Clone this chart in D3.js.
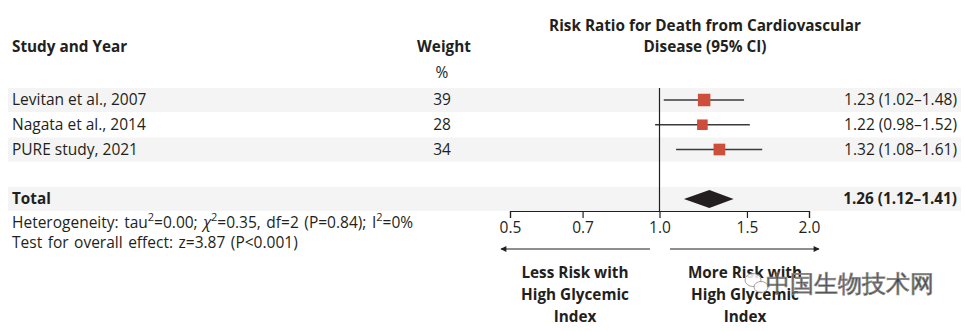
<!DOCTYPE html>
<html>
<head>
<meta charset="utf-8">
<script src="https://cdn.jsdelivr.net/npm/d3@7"></script>
<style>
  body { margin: 0; background: #fff; }
  svg text { font-family: "Open Sans", Lato, sans-serif; fill: #231f20; }
</style>
</head>
<body>
<div id="chart"></div>
<script>
// studies in the meta-analysis
var studies = ["Levitan et al., 2007", "Nagata et al., 2014", "PURE study, 2021"];
var weights = [39, 28, 34];
var rr = [1.23, 1.22, 1.32];
var lower = [1.02, 0.98, 1.08];
var upper = [1.48, 1.52, 1.61];

// pooled estimate
var total = {label: "Total", rr: 1.26, lower: 1.12, upper: 1.41};

var ticks = [0.5, 0.7, 1.0, 1.5, 2.0];
var stats = [
  "Heterogeneity: tau<tspan baseline-shift='super' font-size='11'>2</tspan>=0.00; <tspan font-style='italic'>χ</tspan><tspan baseline-shift='super' font-size='11'>2</tspan>=0.35, df=2 (P=0.84); I<tspan baseline-shift='super' font-size='11'>2</tspan>=0%",
  "Test for overall effect: z=3.87 (P&lt;0.001)"
];

var W = 965, H = 331;
var FS = 15.5, FB = 15.3;
var svg = d3.select("#chart").append("svg")
  .attr("width", W)
  .attr("height", H);

var x = d3.scaleLog().domain([0.5, 2.0]).range([510, 809]);
var rowY = d3.scalePoint().domain(studies.concat(["", total.label])).range([100, 199]);
var rowH = 24;
var fmt = d3.format(".2f");
var ciText = function(m, lo, hi) { return fmt(m) + " (" + fmt(lo) + "\u2013" + fmt(hi) + ")"; };

// striped row backgrounds
svg.selectAll("rect.stripe")
  .data([studies[0], studies[2], total.label])
  .enter().append("rect")
  .attr("class", "stripe")
  .attr("x", 8).attr("width", W - 8 - 4)
  .attr("y", d => rowY(d) - rowH / 2)
  .attr("height", rowH)
  .attr("fill", "#f3f4f3");

// headers
svg.append("text").attr("x", 12).attr("y", 52)
  .attr("font-size", FB).attr("font-weight", "bold").text("Study and Year");
svg.append("text").attr("x", 444).attr("y", 52).attr("text-anchor", "middle")
  .attr("font-size", FB).attr("font-weight", "bold").text("Weight");
svg.append("text").attr("x", 442).attr("y", 78).attr("text-anchor", "middle")
  .attr("font-size", FS).text("%");
svg.append("text").attr("x", 705).attr("y", 31).attr("text-anchor", "middle")
  .attr("font-size", FB).attr("font-weight", "bold").text("Risk Ratio for Death from Cardiovascular");
svg.append("text").attr("x", 705).attr("y", 52).attr("text-anchor", "middle")
  .attr("font-size", FB).attr("font-weight", "bold").text("Disease (95% CI)");

// study rows
var rows = svg.selectAll("g.row")
  .data(studies.map((s, i) => ({name: s, w: weights[i], rr: rr[i], lo: lower[i], hi: upper[i]})))
  .enter().append("g").attr("class", "row")
  .attr("transform", d => "translate(0," + rowY(d.name) + ")");

rows.append("text").attr("x", 12).attr("dy", "0.35em").attr("font-size", FS).text(d => d.name);
rows.append("text").attr("x", 442).attr("dy", "0.35em").attr("text-anchor", "middle")
  .attr("font-size", FS).text(d => d.w);
rows.append("text").attr("x", 957).attr("dy", "0.35em").attr("text-anchor", "end")
  .attr("font-size", FS).text(d => ciText(d.rr, d.lo, d.hi));

// total row
var tot = svg.append("g").attr("transform", "translate(0," + rowY(total.label) + ")");
tot.append("text").attr("x", 12).attr("dy", "0.35em").attr("font-size", FB)
  .attr("font-weight", "bold").text(total.label);
tot.append("text").attr("x", 957).attr("dy", "0.35em").attr("text-anchor", "end")
  .attr("font-size", FB).attr("font-weight", "bold").text(ciText(total.rr, total.lower, total.upper));

// line of no effect
svg.append("line")
  .attr("x1", x(1)).attr("x2", x(1))
  .attr("y1", rowY(studies[0]) - rowH / 2).attr("y2", 211)
  .attr("stroke", "#231f20").attr("stroke-width", 1.2);

// confidence intervals and weighted squares
rows.append("line")
  .attr("x1", d => x(d.lo)).attr("x2", d => x(d.hi))
  .attr("stroke", "#3a3a3a").attr("stroke-width", 1.4);
rows.append("rect")
  .attr("x", d => x(d.rr) - Math.sqrt(d.w))
  .attr("y", d => -Math.sqrt(d.w))
  .attr("width", d => 2 * Math.sqrt(d.w))
  .attr("height", d => 2 * Math.sqrt(d.w))
  .attr("fill", "#cc4e3b");

// pooled diamond
tot.append("path")
  .attr("d", "M" + x(total.lower) + ",0L" + x(total.rr) + ",-9L" + x(total.upper) + ",0L" + x(total.rr) + ",9Z")
  .attr("fill", "#231f20");

// axis
var axis = svg.append("g").attr("transform", "translate(0,211)")
  .call(d3.axisBottom(x).tickValues(ticks).tickFormat(d3.format(".1f")).tickSize(7).tickPadding(4));
axis.select(".domain").attr("stroke", "#231f20").attr("stroke-width", 1.2);
axis.selectAll(".tick line").attr("stroke", "#231f20").attr("stroke-width", 1.2);
axis.selectAll(".tick text").attr("font-size", FS).attr("font-family", "'Open Sans', sans-serif").attr("fill", "#231f20");

// direction arrows
var defs = svg.append("defs");
defs.append("marker").attr("id", "arrow")
  .attr("viewBox", "0 0 10 10").attr("refX", 9).attr("refY", 5)
  .attr("markerWidth", 10).attr("markerHeight", 6).attr("markerUnits", "userSpaceOnUse")
  .attr("orient", "auto-start-reverse")
  .append("path").attr("d", "M0,0L10,5L0,10Z").attr("fill", "#231f20");

svg.append("line").attr("x1", 650).attr("x2", 501).attr("y1", 249).attr("y2", 249)
  .attr("stroke", "#231f20").attr("stroke-width", 1.2).attr("marker-end", "url(#arrow)");
svg.append("line").attr("x1", 670).attr("x2", 819).attr("y1", 249).attr("y2", 249)
  .attr("stroke", "#231f20").attr("stroke-width", 1.2).attr("marker-end", "url(#arrow)");

var dirLabels = [
  {cx: 575, lines: ["Less Risk with", "High Glycemic", "Index"]},
  {cx: 745, lines: ["More Risk with", "High Glycemic", "Index"]}
];
dirLabels.forEach(function(l) {
  svg.append("text").attr("text-anchor", "middle").attr("font-size", FB).attr("font-weight", "bold")
    .selectAll("tspan").data(l.lines).enter().append("tspan")
    .attr("x", l.cx).attr("y", (d, i) => 278 + i * 22).text(d => d);
});

// heterogeneity statistics
svg.selectAll("text.stat").data(stats).enter().append("text")
  .attr("class", "stat").attr("x", 12).attr("y", (d, i) => 228 + i * 20)
  .attr("font-size", FS).attr("word-spacing", 1.5).html(d => d);

// watermark
var wm = svg.append("g").attr("fill", "#fff").attr("fill-opacity", 0.85)
  .attr("stroke", "#8a8a8a").attr("stroke-width", 0.8);
wm.append("ellipse").attr("cx", 753).attr("cy", 280).attr("rx", 8).attr("ry", 6.5);
wm.append("ellipse").attr("cx", 761).attr("cy", 287).attr("rx", 7).attr("ry", 5.5);
wm.append("text").attr("x", 850).attr("y", 292).attr("text-anchor", "middle")
  .attr("font-family", "'Noto Sans CJK SC'").attr("font-size", 24).attr("font-weight", 300)
  .text("中国生物技术网");
</script>
</body>
</html>
